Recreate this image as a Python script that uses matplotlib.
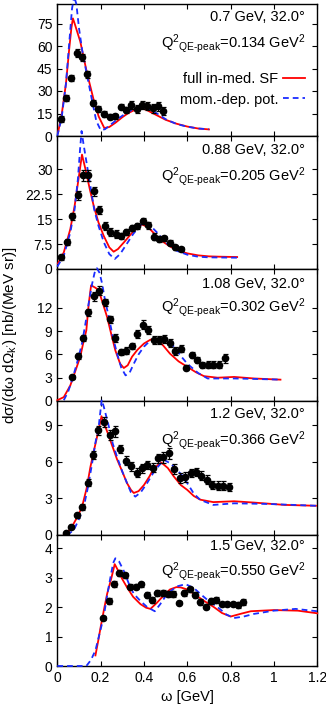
import matplotlib
matplotlib.use("Agg")
import matplotlib.pyplot as plt

plt.rcParams['font.family'] = ['Liberation Sans', 'DejaVu Sans']
plt.rcParams['mathtext.fontset'] = 'custom'
plt.rcParams['mathtext.rm'] = 'Liberation Sans'
plt.rcParams['mathtext.it'] = 'Liberation Sans:italic'
plt.rcParams['mathtext.default'] = 'rm'

# ---------------- data ----------------
titles = ["0.7 GeV, 32.0°", "0.88 GeV, 32.0°", "1.08 GeV, 32.0°", "1.2 GeV, 32.0°", "1.5 GeV, 32.0°"]
q2_values = ["0.134", "0.205", "0.302", "0.366", "0.550"]
ylims = [88, 40, 17, 11, 4.45]
yticks = [[0, 15, 30, 45, 60, 75], [0, 7.5, 15, 22.5, 30], [0, 3, 6, 9, 12], [0, 3, 6, 9], [0, 1, 2, 3, 4]]
ytick_labels = [["0", "15", "30", "45", "60", "75"], ["0", "7.5", "15", "22.5", "30"],
                ["0", "3", "6", "9", "12"], ["0", "3", "6", "9"], ["0", "1", "2", "3", "4"]]
xticks = [0, 0.2, 0.4, 0.6, 0.8, 1.0, 1.2]
xtick_labels = ["0", "0.2", "0.4", "0.6", "0.8", "1", "1.2"]

# experimental data
exp1_w = [0.015, 0.039, 0.065, 0.089, 0.114, 0.139, 0.164, 0.190, 0.216, 0.241, 0.265, 0.292, 0.316, 0.341, 0.366, 0.390, 0.415, 0.440, 0.466, 0.490]
exp1_y = [11.2, 25.3, 38.7, 55.5, 52.4, 41.2, 21.9, 17.9, 14.8, 13.0, 13.2, 19.5, 17.2, 20.6, 17.9, 20.6, 20.1, 18.4, 19.7, 16.8]
exp1_e = [2.0, 2.0, 2.2, 2.5, 2.5, 2.2, 2.2, 2.0, 1.8, 1.8, 1.8, 1.8, 2.0, 2.5, 2.5, 2.8, 2.8, 2.8, 2.8, 2.8]

exp2_w = [0.0185, 0.045, 0.069, 0.094, 0.119, 0.143, 0.170, 0.194, 0.219, 0.244, 0.270, 0.295, 0.319, 0.344, 0.369, 0.395, 0.420, 0.444, 0.469, 0.494, 0.518, 0.544, 0.569]
exp2_y = [3.5, 8.1, 15.8, 22.2, 28.2, 28.2, 23.4, 17.6, 12.8, 11.0, 10.6, 9.8, 11.2, 12.4, 12.9, 14.4, 13.1, 9.7, 9.0, 9.2, 7.9, 6.5, 6.0]
exp2_e = [0.7, 1.0, 1.0, 1.4, 1.6, 1.6, 1.3, 1.2, 1.2, 1.2, 1.2, 0.9, 0.9, 0.9, 0.9, 1.0, 1.0, 1.0, 1.0, 0.8, 0.7, 0.7, 0.7]

exp3_w = [0.069, 0.094, 0.119, 0.143, 0.170, 0.194, 0.219, 0.244, 0.268, 0.295, 0.319, 0.344, 0.369, 0.395, 0.420, 0.444, 0.469, 0.494, 0.520, 0.544, 0.569, 0.594, 0.620, 0.645, 0.669, 0.694, 0.719, 0.745, 0.774]
exp3_y = [3.1, 5.76, 8.1, 11.4, 13.5, 14.2, 12.7, 10.5, 8.1, 6.3, 6.5, 7.1, 8.6, 9.85, 9.1, 7.9, 7.9, 8.0, 7.5, 6.4, 6.75, 4.3, 5.9, 5.25, 4.6, 4.7, 4.7, 4.7, 5.5]
exp3_e = [0.3, 0.4, 0.4, 0.5, 0.6, 0.6, 0.5, 0.5, 0.5, 0.4, 0.4, 0.4, 0.5, 0.6, 0.5, 0.5, 0.5, 0.5, 0.5, 0.5, 0.5, 0.3, 0.4, 0.4, 0.4, 0.5, 0.5, 0.5, 0.6]

exp4_w = [0.040, 0.065, 0.089, 0.114, 0.140, 0.165, 0.190, 0.216, 0.241, 0.265, 0.290, 0.316, 0.341, 0.366, 0.390, 0.416, 0.441, 0.466, 0.490, 0.515, 0.540, 0.566, 0.591, 0.616, 0.640, 0.665, 0.691, 0.716, 0.740, 0.765, 0.791]
exp4_y = [0.2, 0.63, 1.62, 2.28, 4.3, 6.56, 8.6, 9.25, 8.23, 8.5, 7.05, 6.1, 5.63, 5.13, 5.46, 5.76, 5.54, 6.28, 6.39, 6.72, 5.43, 4.69, 4.75, 5.1, 5.19, 4.88, 4.55, 4.12, 4.06, 4.06, 3.95]
exp4_e = [0.1, 0.15, 0.2, 0.25, 0.3, 0.35, 0.35, 0.4, 0.4, 0.45, 0.35, 0.35, 0.35, 0.35, 0.35, 0.35, 0.35, 0.4, 0.45, 0.45, 0.4, 0.4, 0.4, 0.35, 0.35, 0.35, 0.35, 0.35, 0.35, 0.35, 0.35]

exp5_w = [0.213, 0.238, 0.262, 0.287, 0.312, 0.336, 0.361, 0.386, 0.412, 0.437, 0.461, 0.486, 0.510, 0.535, 0.560, 0.585, 0.611, 0.636, 0.660, 0.685, 0.710, 0.734, 0.759, 0.785, 0.810, 0.834, 0.859]
exp5_y = [1.63, 2.2, 2.8, 3.15, 3.08, 2.7, 2.7, 2.77, 2.41, 2.25, 2.48, 2.48, 2.46, 2.45, 2.15, 2.47, 2.6, 2.42, 2.17, 2.02, 2.2, 2.23, 2.1, 2.1, 2.1, 2.07, 2.16]
exp5_e = [0.08, 0.1, 0.1, 0.1, 0.08, 0.1, 0.1, 0.1, 0.1, 0.1, 0.1, 0.1, 0.1, 0.1, 0.06, 0.1, 0.1, 0.1, 0.1, 0.08, 0.1, 0.1, 0.06, 0.06, 0.06, 0.1, 0.1]

# full in-medium spectral function (red)
sf1_w = [0.003, 0.02, 0.04, 0.055, 0.065, 0.072, 0.08, 0.095, 0.106, 0.137, 0.168, 0.191, 0.217, 0.24, 0.27, 0.3, 0.33, 0.36, 0.384, 0.41, 0.45, 0.5, 0.55, 0.6, 0.65, 0.7]
sf1_y = [2, 14, 35, 58, 72, 78.4, 75, 68, 63, 42, 24, 13, 5.3, 6, 9, 12.5, 15.5, 17.5, 18.6, 17.5, 14.5, 10.8, 8.2, 6.3, 5.0, 4.4]
sf2_w = [0.003, 0.03, 0.06, 0.08, 0.1, 0.114, 0.13, 0.15, 0.168, 0.19, 0.214, 0.24, 0.26, 0.28, 0.31, 0.34, 0.37, 0.392, 0.42, 0.45, 0.476, 0.52, 0.56, 0.6, 0.65, 0.7, 0.75, 0.83]
sf2_y = [1.7, 5, 12, 19, 28, 34.4, 30, 24, 19, 14, 10, 6.5, 5.2, 6, 8.2, 10.5, 12.5, 13.4, 12.5, 10.5, 8.7, 6.8, 5.5, 4.7, 4.1, 3.8, 3.7, 3.6]
sf3_w = [0.0, 0.03, 0.06, 0.085, 0.106, 0.12, 0.134, 0.145, 0.156, 0.175, 0.19, 0.21, 0.23, 0.25, 0.268, 0.29, 0.307, 0.325, 0.345, 0.37, 0.4, 0.43, 0.46, 0.49, 0.52, 0.56, 0.6, 0.64, 0.677, 0.74, 0.816, 0.909, 1.03]
sf3_y = [0.1, 0.5, 2, 4, 5.7, 7.5, 9.1, 12.5, 14.9, 14.6, 14.3, 12.6, 10.8, 8.5, 6.5, 4.8, 4.25, 4.6, 5.7, 6.6, 7.4, 7.9, 8.0, 7.1, 6.1, 5.1, 4.4, 3.7, 3.2, 3.0, 3.1, 2.9, 2.75]
sf4_w = [0.03, 0.05, 0.068, 0.09, 0.114, 0.135, 0.153, 0.17, 0.184, 0.204, 0.215, 0.23, 0.25, 0.276, 0.3, 0.322, 0.34, 0.353, 0.375, 0.4, 0.425, 0.446, 0.48, 0.51, 0.538, 0.57, 0.6, 0.63, 0.66, 0.72, 0.816, 0.909, 1.05, 1.194]
sf4_y = [0.0, 0.3, 0.7, 1.4, 2.3, 3.8, 5.6, 7.0, 8.1, 9.75, 9.2, 8.5, 7.5, 6.2, 5.2, 4.25, 3.7, 3.45, 3.6, 4.1, 4.8, 5.5, 5.95, 5.5, 4.8, 4.1, 3.7, 3.2, 2.9, 2.7, 2.77, 2.66, 2.47, 2.4]
sf5_w = [0.176, 0.19, 0.2, 0.215, 0.23, 0.25, 0.265, 0.28, 0.3, 0.322, 0.35, 0.384, 0.41, 0.43, 0.46, 0.49, 0.52, 0.55, 0.569, 0.6, 0.63, 0.68, 0.723, 0.76, 0.8, 0.85, 0.893, 1.0, 1.11, 1.2]
sf5_y = [0.36, 0.9, 1.32, 1.9, 2.45, 3.0, 3.46, 3.25, 2.95, 2.67, 2.35, 2.1, 1.98, 1.94, 2.15, 2.39, 2.6, 2.68, 2.67, 2.6, 2.45, 2.2, 2.0, 1.8, 1.68, 1.78, 1.86, 1.9, 1.88, 1.79]

# momentum-dependent potential (blue dashed)
mp1_w = [0.0, 0.02, 0.04, 0.055, 0.068, 0.078, 0.088, 0.1, 0.115, 0.135, 0.16, 0.18, 0.2, 0.22, 0.25, 0.28, 0.31, 0.34, 0.37, 0.392, 0.42, 0.46, 0.5, 0.55, 0.6, 0.65, 0.7]
mp1_y = [0, 12, 35, 62, 85, 93, 88, 72, 57, 42, 24, 10, 4, 4.5, 8, 11.5, 14.5, 17, 19, 19.7, 18.5, 15, 11.2, 8, 6.2, 5.0, 4.5]
mp2_w = [0.0, 0.03, 0.06, 0.08, 0.095, 0.105, 0.112, 0.12, 0.135, 0.15, 0.17, 0.19, 0.215, 0.24, 0.265, 0.29, 0.32, 0.35, 0.38, 0.4, 0.43, 0.46, 0.5, 0.55, 0.6, 0.65, 0.7, 0.83]
mp2_y = [0.7, 4, 11, 18, 27, 36, 41.5, 38, 32, 26, 18, 13, 8, 4.5, 3, 4.5, 7.5, 10.5, 13, 14, 13, 11, 8, 5.5, 4.3, 3.7, 3.5, 3.4]
mp3_w = [0.03, 0.05, 0.068, 0.09, 0.114, 0.13, 0.145, 0.16, 0.172, 0.183, 0.195, 0.207, 0.22, 0.238, 0.256, 0.276, 0.295, 0.315, 0.333, 0.353, 0.375, 0.4, 0.43, 0.469, 0.5, 0.54, 0.57, 0.6, 0.65, 0.694, 0.75, 0.816, 0.9, 1.03]
mp3_y = [0.1, 1.2, 2.7, 4.8, 7.4, 10, 12.6, 15, 16.5, 17.1, 16.5, 15.1, 13, 10.8, 8.3, 6.1, 4.3, 3.3, 3.6, 4.8, 6, 7, 7.8, 8.05, 7.7, 7.0, 5.8, 4.8, 3.6, 2.9, 2.9, 2.9, 2.85, 2.75]
mp4_w = [0.045, 0.076, 0.1, 0.122, 0.14, 0.16, 0.175, 0.191, 0.205, 0.215, 0.238, 0.256, 0.276, 0.3, 0.322, 0.34, 0.36, 0.385, 0.414, 0.45, 0.492, 0.52, 0.553, 0.58, 0.6, 0.63, 0.66, 0.72, 0.816, 0.97, 1.194]
mp4_y = [0.0, 0.4, 1.3, 2.3, 3.8, 5.8, 7.5, 8.9, 11.1, 10.5, 8.9, 7.5, 6.4, 5.2, 4.25, 3.5, 3.15, 3.5, 4.25, 5.3, 6.17, 5.9, 5.35, 4.8, 4.25, 3.4, 2.88, 2.47, 2.6, 2.55, 2.4]
mp5_w = [0.0, 0.134, 0.155, 0.176, 0.195, 0.214, 0.23, 0.245, 0.258, 0.268, 0.285, 0.307, 0.33, 0.353, 0.385, 0.415, 0.45, 0.475, 0.507, 0.55, 0.592, 0.63, 0.66, 0.7, 0.74, 0.78, 0.816, 0.86, 0.908, 1.0, 1.1, 1.2]
mp5_y = [0.0, 0.0, 0.2, 0.53, 1.1, 1.66, 2.4, 3.0, 3.5, 3.66, 3.55, 3.23, 2.8, 2.45, 2.2, 2.0, 1.86, 2.1, 2.45, 2.7, 2.78, 2.65, 2.45, 2.2, 2.0, 1.75, 1.63, 1.68, 1.77, 1.88, 1.94, 1.86]

exp_sets = [(exp1_w, exp1_y, exp1_e), (exp2_w, exp2_y, exp2_e), (exp3_w, exp3_y, exp3_e),
            (exp4_w, exp4_y, exp4_e), (exp5_w, exp5_y, exp5_e)]
sf_sets = [(sf1_w, sf1_y), (sf2_w, sf2_y), (sf3_w, sf3_y), (sf4_w, sf4_y), (sf5_w, sf5_y)]
mp_sets = [(mp1_w, mp1_y), (mp2_w, mp2_y), (mp3_w, mp3_y), (mp4_w, mp4_y), (mp5_w, mp5_y)]

# ---------------- layout ----------------
W, H = 326, 708
fig = plt.figure(figsize=(W / 100, H / 100), dpi=100)
bounds_px = [4, 136, 269, 401, 535, 666]
left_px, right_px = 57.3, 317.3
title_y = [0.905, 0.895, 0.89, 0.90, 0.915]
q2_y = [0.70, 0.695, 0.705, 0.705, 0.72]
fs = 10.5
tfs = 10

axes = []
for i in range(5):
    top, bot = bounds_px[i], bounds_px[i + 1]
    ax = fig.add_axes([left_px / W, 1 - bot / H, (right_px - left_px) / W, (bot - top) / H])
    axes.append(ax)
    ax.set_xlim(0, 1.2)
    ax.set_ylim(0, ylims[i])
    ax.set_yticks(yticks[i])
    ax.set_yticklabels(ytick_labels[i])
    ax.set_xticks(xticks)
    if i == 4:
        ax.set_xticklabels(xtick_labels)
        ax.set_xlabel("ω [GeV]", fontsize=fs, labelpad=4)
    else:
        ax.set_xticklabels([])
    ax.tick_params(direction='in', top=True, right=True, length=3.5, width=0.8, labelsize=tfs, pad=3.5)
    for s in ax.spines.values():
        s.set_linewidth(1.0)

    w, y = sf_sets[i]
    ax.plot(w, y, color='#ff0000', lw=1.3, clip_on=False, zorder=3, label='full in-med. SF')
    w, y = mp_sets[i]
    ax.plot(w, y, color='#1a2cff', lw=1.3, ls=(0, (3.2, 2.2)), clip_on=False, zorder=4, label='mom.-dep. pot.')
    w, y, e = exp_sets[i]
    ax.errorbar(w, y, yerr=e, fmt='o', color='black', ms=4.5, elinewidth=0.9, capsize=1.8,
                capthick=0.9, zorder=5)

    ax.text(0.953, title_y[i], titles[i], transform=ax.transAxes, ha='right', va='center', fontsize=fs)
    ax.text(0.953, q2_y[i], "Q$^{2}$$_{\\mathrm{QE\\text{-}peak}}$=" + q2_values[i] + " GeV$^{2}$",
            transform=ax.transAxes, ha='right', va='center', fontsize=fs)

    if i == 0:
        ax.legend(loc='upper right', bbox_to_anchor=(0.953, 0.485), frameon=False, markerfirst=False,
                  fontsize=fs, handlelength=1.5, handletextpad=0.35, labelspacing=0.45,
                  borderpad=0, borderaxespad=0)

fig.text(0.032, (1 - 335 / H), "dσ/(dω dΩ$_{\\mathrm{k'}}$) [nb/(MeV sr)]", rotation=90,
         ha='center', va='center', fontsize=11)

fig.savefig("out.png", dpi=100)
